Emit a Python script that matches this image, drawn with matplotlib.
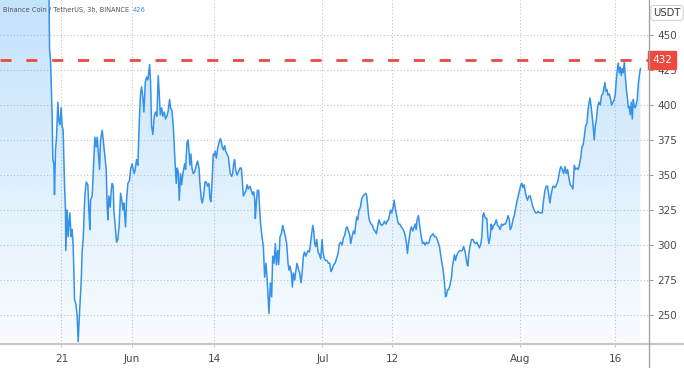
import datetime as dt
import numpy as np
import matplotlib
matplotlib.use("Agg")
import matplotlib.pyplot as plt
import matplotlib.dates as mdates
from matplotlib.patches import Polygon
from matplotlib.lines import Line2D

# BNB/USDT, 3h candles, close price (days counted from 2021-05-21)
START = dt.datetime(2021, 5, 21)
DAYS = [
    -9.8, -7.0, -4.0, -2.0, -1.88, -1.73, -1.47, -1.36, -1.20, -1.10,
    -0.94, -0.78, -0.57, -0.42, -0.26, -0.05, 0.11, 0.26, 0.47, 0.63,
    0.68, 0.89, 1.05, 1.31, 1.52, 1.68, 1.84, 2.05, 2.26, 2.47,
    2.62, 2.88, 3.09, 3.25, 3.41, 3.67, 3.88, 4.14, 4.30, 4.46,
    4.56, 4.82, 5.09, 5.24, 5.45, 5.61, 5.77, 5.98, 6.13, 6.40,
    6.55, 6.76, 7.03, 7.18, 7.29, 7.44, 7.65, 7.81, 7.97, 8.13,
    8.23, 8.44, 8.65, 8.86, 9.07, 9.28, 9.49, 9.65, 9.80, 10.06,
    10.22, 10.43, 10.69, 10.85, 11.11, 11.27, 11.43, 11.58, 11.79, 12.00,
    12.21, 12.42, 12.58, 12.79, 12.95, 13.16, 13.37, 13.58, 13.84, 14.00,
    14.15, 14.36, 14.57, 14.78, 14.99, 15.20, 15.36, 15.52, 15.73, 15.94,
    16.15, 16.35, 16.56, 16.77, 16.98, 17.14, 17.35, 17.56, 17.82, 18.03,
    18.19, 18.35, 18.50, 18.71, 18.87, 19.08, 19.34, 19.50, 19.71, 19.87,
    20.02, 20.18, 20.34, 20.50, 20.70, 20.91, 21.18, 21.39, 21.60, 21.75,
    21.96, 22.12, 22.33, 22.54, 22.75, 22.96, 23.17, 23.33, 23.48, 23.69,
    23.85, 24.01, 24.16, 24.32, 24.53, 24.74, 24.95, 25.11, 25.26, 25.42,
    25.63, 25.79, 26.00, 26.21, 26.37, 26.52, 26.73, 26.89, 27.05, 27.20,
    27.36, 27.57, 27.78, 28.04, 28.25, 28.41, 28.57, 28.78, 29.00, 29.15,
    29.35, 29.61, 29.82, 30.03, 30.19, 30.35, 30.45, 30.61, 30.77, 30.98,
    31.14, 31.29, 31.50, 31.71, 31.92, 32.13, 32.34, 32.60, 32.81, 33.02,
    33.18, 33.39, 33.60, 33.76, 33.97, 34.12, 34.33, 34.54, 34.75, 34.96,
    35.17, 35.38, 35.59, 35.75, 35.90, 36.11, 36.27, 36.43, 36.64, 36.80,
    37.01, 37.21, 37.42, 37.63, 37.84, 38.00, 38.16, 38.37, 38.53, 38.73,
    38.94, 39.15, 39.31, 39.47, 39.63, 39.78, 39.94, 40.10, 40.31, 40.52,
    40.73, 40.94, 41.09, 41.30, 41.51, 41.72, 41.93, 42.14, 42.35, 42.56,
    42.77, 42.98, 43.19, 43.45, 43.66, 43.87, 44.08, 44.29, 44.50, 44.71,
    44.87, 45.08, 45.29, 45.44, 45.65, 45.86, 46.07, 46.23, 46.39, 46.54,
    46.75, 46.96, 47.17, 47.38, 47.59, 47.80, 47.96, 48.12, 48.27, 48.43,
    48.64, 48.85, 49.06, 49.27, 49.48, 49.69, 49.90, 50.11, 50.32, 50.53,
    50.74, 50.95, 51.16, 51.37, 51.52, 51.68, 51.89, 52.10, 52.26, 52.41,
    52.57, 52.78, 52.94, 53.15, 53.36, 53.57, 53.78, 53.99, 54.20, 54.35,
    54.51, 54.67, 54.83, 54.98, 55.19, 55.40, 55.56, 55.72, 55.87, 56.08,
    56.24, 56.40, 56.55, 56.71, 56.92, 57.13, 57.34, 57.55, 57.76, 57.97,
    58.18, 58.39, 58.60, 58.81, 59.02, 59.23, 59.38, 59.54, 59.70, 59.86,
    60.01, 60.17, 60.33, 60.49, 60.64, 60.80, 60.96, 61.11, 61.27, 61.43,
    61.59, 61.74, 61.90, 62.06, 62.22, 62.37, 62.58, 62.74, 62.95, 63.16,
    63.37, 63.53, 63.68, 63.84, 64.00, 64.21, 64.42, 64.63, 64.84, 65.05,
    65.26, 65.47, 65.67, 65.88, 66.04, 66.20, 66.36, 66.51, 66.67, 66.83,
    66.99, 67.14, 67.35, 67.51, 67.67, 67.88, 68.09, 68.30, 68.51, 68.72,
    68.92, 69.13, 69.34, 69.55, 69.76, 69.97, 70.18, 70.34, 70.50, 70.71,
    70.92, 71.13, 71.34, 71.55, 71.76, 71.96, 72.17, 72.33, 72.49, 72.70,
    72.86, 72.99, 73.22, 73.43, 73.64, 73.85, 74.06, 74.27, 74.48, 74.69,
    74.90, 75.11, 75.32, 75.53, 75.74, 75.95, 76.16, 76.37, 76.58, 76.73,
    76.89, 77.05, 77.21, 77.36, 77.52, 77.68, 77.84, 77.99, 78.15, 78.31,
    78.46, 78.67, 78.88, 79.09, 79.30, 79.51, 79.72, 79.93, 80.14, 80.35,
    80.56, 80.77, 80.98, 81.19, 81.39, 81.60, 81.76, 81.92, 82.13, 82.34,
    82.55, 82.71, 82.86, 83.02, 83.18, 83.33, 83.49, 83.70, 83.86, 84.02,
    84.23, 84.43, 84.64, 84.85, 85.06, 85.22, 85.38, 85.53, 85.69, 85.85,
    86.06, 86.27, 86.43, 86.64, 86.85, 87.00, 87.16, 87.32, 87.47, 87.63,
    87.79, 87.95, 88.10, 88.26, 88.42, 88.57, 88.73, 88.89, 89.05, 89.20,
    89.36, 89.52, 89.68, 89.83, 89.99, 90.15, 90.31, 90.46, 90.62, 90.78,
    90.95,
]
PRICE = [
    520, 535, 515, 500, 440, 433, 393, 361, 358, 336,
    368, 377, 402, 389, 386, 398, 385, 382, 344, 325,
    296, 325, 306, 323, 306, 311, 299, 261, 258, 249,
    231, 256, 273, 296, 304, 335, 345, 343, 325, 311,
    332, 335, 363, 377, 370, 377, 367, 354, 375, 382,
    375, 366, 354, 327, 318, 335, 327, 339, 344, 342,
    325, 313, 302, 304, 315, 337, 332, 325, 330, 313,
    332, 344, 346, 354, 358, 354, 351, 354, 361, 357,
    387, 408, 413, 405, 395, 416, 420, 418, 429, 416,
    385, 379, 392, 395, 392, 421, 408, 393, 398, 392,
    395, 390, 392, 396, 404, 398, 396, 385, 361, 344,
    355, 352, 332, 351, 343, 351, 358, 354, 373, 375,
    368, 357, 365, 355, 351, 352, 357, 360, 355, 344,
    333, 330, 335, 345, 345, 342, 344, 333, 331, 349,
    365, 364, 367, 362, 369, 373, 376, 374, 370, 368,
    371, 367, 365, 363, 357, 351, 349, 351, 358, 361,
    354, 350, 352, 355, 355, 346, 335, 337, 339, 343,
    340, 342, 339, 336, 338, 333, 319, 330, 339, 339,
    325, 315, 306, 299, 277, 287, 273, 251, 273, 263,
    292, 287, 301, 286, 296, 286, 306, 308, 314, 310,
    306, 301, 287, 282, 285, 280, 270, 280, 275, 281,
    287, 283, 280, 273, 282, 292, 295, 292, 294, 296,
    295, 302, 308, 314, 310, 301, 299, 304, 295, 293,
    290, 304, 295, 290, 289, 289, 287, 287, 281, 283,
    286, 287, 290, 294, 301, 302, 300, 305, 307, 312,
    313, 310, 307, 301, 306, 310, 308, 315, 320, 318,
    325, 327, 333, 335, 336, 337, 335, 327, 320, 317,
    315, 314, 311, 310, 308, 314, 318, 315, 314, 315,
    317, 315, 317, 318, 321, 325, 323, 327, 332, 327,
    323, 318, 315, 315, 313, 312, 310, 307, 301, 294,
    301, 306, 311, 313, 310, 313, 315, 311, 318, 321,
    315, 310, 305, 301, 302, 300, 302, 301, 302, 306,
    307, 308, 306, 306, 304, 301, 299, 294, 289, 285,
    280, 273, 263, 264, 268, 268, 270, 273, 277, 285,
    289, 293, 289, 292, 294, 295, 296, 296, 296, 299,
    296, 292, 287, 285, 294, 300, 304, 304, 302, 301,
    302, 300, 298, 301, 306, 321, 323, 320, 319, 319,
    306, 301, 306, 315, 311, 314, 315, 318, 314, 313,
    311, 315, 314, 315, 315, 318, 321, 318, 311, 313,
    318, 321, 326, 331, 335, 339, 343, 344, 341, 343,
    338, 335, 332, 335, 335, 331, 327, 325, 323, 323,
    324, 323, 323, 323, 332, 339, 342, 342, 335, 330,
    335, 339, 342, 342, 341, 342, 344, 346, 350, 354,
    356, 354, 351, 356, 351, 354, 348, 343, 342, 340,
    357, 354, 355, 354, 358, 363, 370, 371, 377, 385,
    387, 396, 401, 405, 400, 394, 387, 375, 385, 389,
    399, 402, 400, 407, 408, 412, 416, 410, 411, 407,
    408, 404, 400, 402, 404, 408, 418, 425, 430, 423,
    427, 421, 426, 423, 431, 421, 412, 406, 398, 399,
    393, 402, 390, 404, 399, 398, 401, 404, 415, 421,
    426,
]
LEVEL = 432
Y_TICKS = [250, 275, 300, 325, 350, 375, 400, 425, 450]
X_TICK_DATES = ["2021-05-21", "2021-06-01", "2021-06-14", "2021-07-01",
                "2021-07-12", "2021-08-01", "2021-08-16"]
X_TICK_LABELS = ["21", "Jun", "14", "Jul", "12", "Aug", "16"]

LINE_C = "#3592e8"
RED = "#ec4a3f"
TXT = "#4a4a4a"

base = mdates.date2num(START)
xs = base + np.array(DAYS)
ys = np.array(PRICE, dtype=float)

W, H = 684, 368
fig = plt.figure(figsize=(W / 100, H / 100), dpi=100)
ax = fig.add_axes([0, (H - 344) / H, 649 / W, 344 / H])

x0, x1 = base - 9.66, base + 92.3
y0, y1 = 229.3, 475.0
ax.set_xlim(x0, x1)
ax.set_ylim(y0, y1)

# gradient area under the line
grad = np.zeros((256, 1, 4))
grad[..., 0] = 33 / 255
grad[..., 1] = 150 / 255
grad[..., 2] = 243 / 255
grad[:, 0, 3] = np.linspace(0.03, 0.27, 256)
im = ax.imshow(grad, extent=[x0, x1, y0, y1], origin="lower",
               aspect="auto", zorder=1, interpolation="bilinear")
verts = [(xs[0], y0)] + list(zip(xs, ys)) + [(xs[-1], y0)]
clip = Polygon(verts, closed=True, transform=ax.transData)
im.set_clip_path(clip)

ax.plot(xs, ys, color=LINE_C, lw=1.1, zorder=3, solid_joinstyle="round")

ax.axhline(LEVEL, color=RED, lw=2.0, dashes=(4, 5.3), zorder=4)

# grid
tick_nums = [mdates.date2num(dt.datetime.strptime(d, "%Y-%m-%d")) for d in X_TICK_DATES]
ax.set_xticks(tick_nums)
ax.set_xticklabels(X_TICK_LABELS)
ax.set_yticks(Y_TICKS)
ax.set_yticklabels([str(v) for v in Y_TICKS])
ax.yaxis.tick_right()
ax.grid(True, color="#c4c4c4", linestyle=(0, (1, 2)), lw=0.8, zorder=0)
ax.set_axisbelow(True)
ax.tick_params(axis="y", length=3, width=0.8, color="#9a9a9a", pad=3,
               labelsize=7.5, labelcolor=TXT)
ax.tick_params(axis="x", length=2, width=0.6, color="#c0c0c0", pad=5,
               labelsize=7.5, labelcolor=TXT)
for s in ax.spines.values():
    s.set_visible(False)

# axis frame lines across the figure
fig.add_artist(Line2D([0, 1], [(H - 344) / H] * 2, transform=fig.transFigure,
                      color="#c8c8c8", lw=1.6))
fig.add_artist(Line2D([649 / W] * 2, [0, 1], transform=fig.transFigure,
                      color="#9e9e9e", lw=0.9))

# price label for the level
ax.text(1.0 + 3 / 649, LEVEL, str(LEVEL), transform=ax.get_yaxis_transform(),
        ha="left", va="center", color="white", fontsize=7.5, zorder=6,
        clip_on=False,
        bbox=dict(boxstyle="square,pad=0.38", facecolor=RED, edgecolor=RED))

# currency box
fig.text(667 / W, 1 - 13 / H, "USDT", ha="center", va="center", fontsize=7.2,
         color="#3a3a3a",
         bbox=dict(boxstyle="round,pad=0.25,rounding_size=0.3", facecolor="white",
                   edgecolor="#d4d4d4", lw=0.8))

# header
t = fig.text(3 / W, 1 - 10 / H, "Binance Coin / TetherUS, 3h, BINANCE",
             ha="left", va="center", fontsize=4.8, color="#555555")
fig.canvas.draw()
bb = t.get_window_extent()
fig.text((bb.x1 + 4) / W, 1 - 10 / H, "426", ha="left", va="center",
         fontsize=4.8, color="#3d8fe6")

fig.savefig("out.png", dpi=100)
